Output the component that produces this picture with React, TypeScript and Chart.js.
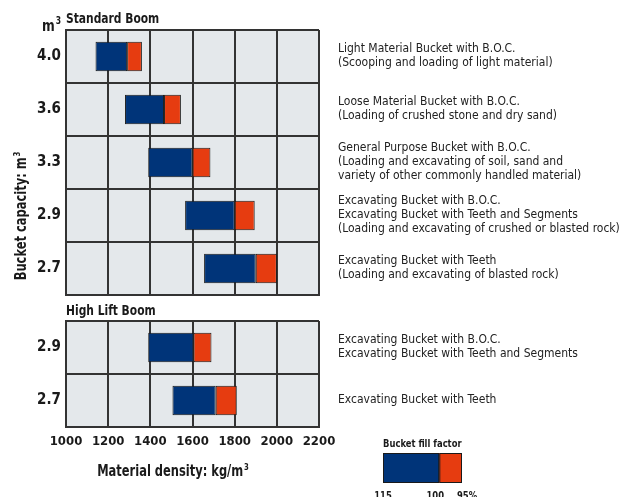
import React, { useEffect, useRef } from 'react';
import { Chart, registerables } from 'chart.js';

Chart.register(...registerables);

// ---------- data ----------
const upperCategories = ['4.0', '3.6', '3.3', '2.9', '2.7'];
const upperLow = [1140, 1280, 1390, 1565, 1655]; // density at 115 % fill
const upperMid = [1290, 1465, 1600, 1800, 1900]; // density at 100 % fill
const upperHigh = [1360, 1545, 1685, 1895, 2000]; // density at 95 % fill
const upperDescriptions = [
  ['Light Material Bucket with B.O.C.', '(Scooping and loading of light material)'],
  ['Loose Material Bucket with B.O.C.', '(Loading of crushed stone and dry sand)'],
  [
    'General Purpose Bucket with B.O.C.',
    '(Loading and excavating of soil, sand and',
    'variety of other commonly handled material)',
  ],
  [
    'Excavating Bucket with B.O.C.',
    'Excavating Bucket with Teeth and Segments',
    '(Loading and excavating of crushed or blasted rock)',
  ],
  ['Excavating Bucket with Teeth', '(Loading and excavating of blasted rock)'],
];

const lowerCategories = ['2.9', '2.7'];
const lowerLow = [1390, 1505];
const lowerMid = [1605, 1710];
const lowerHigh = [1690, 1810];
const lowerDescriptions = [
  ['Excavating Bucket with B.O.C.', 'Excavating Bucket with Teeth and Segments'],
  ['Excavating Bucket with Teeth'],
];

const xTickValues = [1000, 1200, 1400, 1600, 1800, 2000, 2200];
const fillFactors = [115, 100, 95];
const fillFactorLabels = ['115', '100', '95%'];

// ---------- style ----------
const FF = '"Liberation Sans Narrow", "DejaVu Sans Condensed", "Arial Narrow", sans-serif';
const BLUE = '#003479';
const RED = '#e63c10';
const GRID = '#333333';
const BG = '#e4e8eb';
const TEXT = '#1a1a1a';
const DESC = '#222222';
const NARROW = 0.85;

type Align = 'left' | 'center' | 'right';

function drawText(
  ctx: CanvasRenderingContext2D,
  text: string,
  x: number,
  y: number,
  size: number,
  align: Align,
  bold = true,
  sx = NARROW
) {
  ctx.save();
  ctx.translate(x, y);
  ctx.scale(sx, 1);
  ctx.font = `${bold ? 'bold ' : ''}${size}px ${FF}`;
  ctx.textAlign = align;
  ctx.textBaseline = 'alphabetic';
  ctx.fillText(text, 0, 0);
  ctx.restore();
}

function drawSup(
  ctx: CanvasRenderingContext2D,
  base: string,
  sup: string,
  x: number,
  y: number,
  size: number,
  align: Align,
  sx = NARROW
) {
  ctx.save();
  ctx.translate(x, y);
  ctx.scale(sx, 1);
  ctx.textAlign = 'left';
  ctx.textBaseline = 'alphabetic';
  const supSize = Math.round(size * 0.62);
  ctx.font = `bold ${size}px ${FF}`;
  const wb = ctx.measureText(base).width;
  ctx.font = `bold ${supSize}px ${FF}`;
  const ws = ctx.measureText(sup).width;
  const total = wb + ws + 1;
  let ox = 0;
  if (align === 'center') ox = -total / 2;
  if (align === 'right') ox = -total;
  ctx.font = `bold ${size}px ${FF}`;
  ctx.fillText(base, ox, 0);
  ctx.font = `bold ${supSize}px ${FF}`;
  ctx.fillText(sup, ox + wb + 1, -size * 0.42);
  ctx.restore();
}

function drawDescriptions(chart: any, descs: string[][]) {
  const ctx = chart.ctx as CanvasRenderingContext2D;
  const yScale = chart.scales.y;
  ctx.save();
  ctx.fillStyle = DESC;
  ctx.font = `12px ${FF}`;
  ctx.textAlign = 'left';
  ctx.textBaseline = 'middle';
  descs.forEach((lines, i) => {
    const cy = yScale.getPixelForValue(i) - 1;
    const lh = 14;
    lines.forEach((line, j) => {
      ctx.fillText(line, 338, cy + (j - (lines.length - 1) / 2) * lh);
    });
  });
  ctx.restore();
}

function makeConfig(
  categories: string[],
  low: number[],
  mid: number[],
  high: number[],
  opts: { padTop: number; padBottom: number; xHeight: number; showX: boolean; draw: (chart: any) => void }
): any {
  const barCommon = {
    borderColor: '#1a1a1a',
    borderWidth: 1,
    borderSkipped: false,
    grouped: false,
    barPercentage: 0.56,
    categoryPercentage: 1,
  };
  return {
    type: 'bar',
    data: {
      labels: categories,
      datasets: [
        { ...barCommon, label: '115-100', data: low.map((v, i) => [v, mid[i]]), backgroundColor: BLUE },
        { ...barCommon, label: '100-95', data: mid.map((v, i) => [v, high[i]]), backgroundColor: RED },
      ],
    },
    options: {
      indexAxis: 'y',
      animation: false,
      responsive: false,
      maintainAspectRatio: false,
      layout: { padding: { left: 0, right: 631 - 319, top: opts.padTop, bottom: opts.padBottom } },
      plugins: { legend: { display: false }, tooltip: { enabled: false }, title: { display: false } },
      scales: {
        x: {
          type: 'linear',
          min: 1000,
          max: 2200,
          afterBuildTicks: (s: any) => {
            s.ticks = xTickValues.map((v) => ({ value: v }));
          },
          afterFit: (s: any) => {
            s.height = opts.xHeight;
            s.paddingLeft = 0;
            s.paddingRight = 0;
          },
          grid: { color: GRID, lineWidth: 2, drawTicks: false },
          border: { color: GRID, width: 2 },
          ticks: {
            display: opts.showX,
            color: TEXT,
            font: { family: FF, size: 13, weight: 'bold' },
            padding: 7,
            autoSkip: false,
            maxRotation: 0,
            callback: (v: any) => String(v),
          },
        },
        y: {
          type: 'category',
          offset: true,
          afterFit: (s: any) => {
            s.width = 66;
            s.paddingTop = 0;
            s.paddingBottom = 0;
          },
          grid: { color: GRID, lineWidth: 2, drawTicks: false, offset: true },
          border: { color: GRID, width: 2 },
          ticks: {
            color: TEXT,
            font: { family: FF, size: 15, weight: 'bold' },
            padding: 5,
          },
        },
      },
    },
    plugins: [
      {
        id: 'plotBg',
        beforeDraw(chart: any) {
          const { ctx, chartArea } = chart;
          ctx.save();
          ctx.fillStyle = BG;
          ctx.fillRect(chartArea.left, chartArea.top, chartArea.right - chartArea.left, chartArea.bottom - chartArea.top);
          ctx.restore();
        },
      },
      {
        id: 'texts',
        afterDraw(chart: any) {
          opts.draw(chart);
        },
      },
    ],
  };
}

function drawUpper(chart: any) {
  const ctx = chart.ctx as CanvasRenderingContext2D;
  ctx.save();
  ctx.fillStyle = TEXT;
  drawText(ctx, 'Standard Boom', 66, 23, 14, 'left');
  drawSup(ctx, 'm', '3', 61, 31, 16, 'right');
  // y axis title
  ctx.save();
  ctx.translate(26, 216);
  ctx.rotate(-Math.PI / 2);
  drawSup(ctx, 'Bucket capacity: m', '3', 0, 0, 15, 'center');
  ctx.restore();
  ctx.restore();
  drawDescriptions(chart, upperDescriptions);
}

function drawLower(chart: any) {
  const ctx = chart.ctx as CanvasRenderingContext2D;
  ctx.save();
  ctx.fillStyle = TEXT;
  drawText(ctx, 'High Lift Boom', 66, 15, 14, 'left');
  drawSup(ctx, 'Material density: kg/m', '3', 173, 176, 15, 'center');

  // legend: bucket fill factor
  const lx = 383;
  const lw = 79;
  const ly = 153;
  const lh = 30;
  drawText(ctx, 'Bucket fill factor', lx, 147, 11, 'left');
  const inv = fillFactors.map((f) => 1 / f);
  const pos = inv.map((v) => lx + ((v - inv[0]) / (inv[inv.length - 1] - inv[0])) * lw);
  const colors = [BLUE, RED];
  for (let i = 0; i < pos.length - 1; i++) {
    ctx.fillStyle = colors[i];
    ctx.fillRect(pos[i], ly, pos[i + 1] - pos[i], lh);
    ctx.strokeStyle = '#1a1a1a';
    ctx.lineWidth = 1;
    ctx.strokeRect(pos[i] + 0.5, ly + 0.5, pos[i + 1] - pos[i] - 1, lh - 1);
  }
  ctx.fillStyle = TEXT;
  const labelX = [pos[0], pos[1] - 4, pos[2] + 5];
  fillFactorLabels.forEach((t, i) => drawText(ctx, t, labelX[i], 199, 11, 'center'));
  ctx.restore();
  drawDescriptions(chart, lowerDescriptions);
}

export default function App() {
  const upperRef = useRef<HTMLCanvasElement | null>(null);
  const lowerRef = useRef<HTMLCanvasElement | null>(null);

  useEffect(() => {
    const c1 = new Chart(
      upperRef.current as HTMLCanvasElement,
      makeConfig(upperCategories, upperLow, upperMid, upperHigh, {
        padTop: 30,
        padBottom: 5,
        xHeight: 0,
        showX: false,
        draw: drawUpper,
      })
    );
    const c2 = new Chart(
      lowerRef.current as HTMLCanvasElement,
      makeConfig(lowerCategories, lowerLow, lowerMid, lowerHigh, {
        padTop: 21,
        padBottom: 0,
        xHeight: 70,
        showX: true,
        draw: drawLower,
      })
    );
    return () => {
      c1.destroy();
      c2.destroy();
    };
  }, []);

  return (
    <div style={{ position: 'absolute', left: 0, top: 0, width: 631, height: 497, background: '#fff', overflow: 'hidden' }}>
      <canvas
        ref={upperRef}
        width={631}
        height={300}
        style={{ position: 'absolute', left: 0, top: 0, width: 631, height: 300, display: 'block' }}
      />
      <canvas
        ref={lowerRef}
        width={631}
        height={197}
        style={{ position: 'absolute', left: 0, top: 300, width: 631, height: 197, display: 'block' }}
      />
    </div>
  );
}
